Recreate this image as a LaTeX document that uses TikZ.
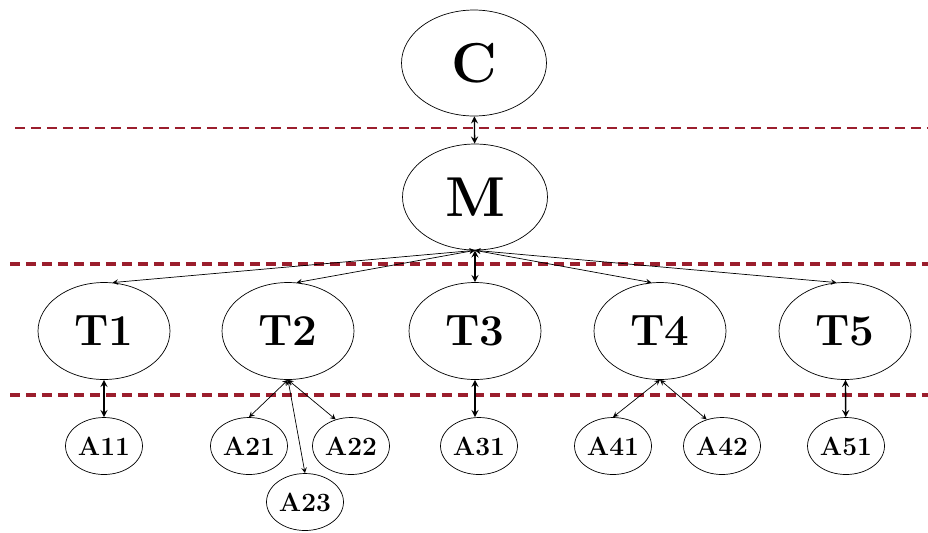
\documentclass[tikz,border=0pt]{standalone}
\usepackage{xcolor}
\usepackage{tikz}
\usetikzlibrary{arrows, positioning, shapes.geometric}

\definecolor{sepred}{RGB}{155,30,45}

\begin{document}
\begin{tikzpicture}[x=0.02cm, y=-0.02cm, >=stealth,
    top/.style={draw, ellipse, inner sep=0pt, minimum width=2.9cm, minimum height=2.12cm,
        font=\fontsize{32}{34}\selectfont\bfseries},
    task/.style={draw, ellipse, inner sep=0pt, minimum width=2.64cm, minimum height=1.94cm,
        font=\fontsize{25}{28}\selectfont\bfseries},
    leaf/.style={draw, ellipse, inner sep=0pt, minimum width=1.54cm, minimum height=1.14cm,
        font=\fontsize{15}{17}\selectfont\bfseries},
    sep/.style={sepred, dash pattern=on 0.2cm off 0.12cm}]
        \useasboundingbox (0,0) rectangle (928,532);

        % Layer separators
        \draw[sep, line width=0.8pt] (15,128) -- (928,128);
        \draw[sep, line width=1.8pt] (10,264) -- (928,264);
        \draw[sep, line width=1.8pt] (10,395) -- (928,395);

        % Coordinator and manager
        \node[top] (C) at (474,63) {C};
        \node[top] (M) at (475,197) {M};

        % Tasks
        \node[task] (T1) at (104,331) {T1};
        \node[task] (T2) at (288,331) {T2};
        \node[task] (T3) at (475,331) {T3};
        \node[task] (T4) at (660,331) {T4};
        \node[task] (T5) at (845,331) {T5};

        % Agents
        \node[leaf] (A11) at (104,446) {A11};
        \node[leaf] (A21) at (249,446) {A21};
        \node[leaf] (A22) at (351,446) {A22};
        \node[leaf] (A23) at (305,502) {A23};
        \node[leaf] (A31) at (479,446) {A31};
        \node[leaf] (A41) at (613,446) {A41};
        \node[leaf] (A42) at (722,446) {A42};
        \node[leaf] (A51) at (846,446) {A51};

        % Relationships
        \draw[<->, thick] (C) -- (M);
        \draw[<->, thick] (M) -- (T3);
        \draw[<->] (M.south) -- (T1.80);
        \draw[<->] (M.south) -- (T2.80);
        \draw[<->] (M.south) -- (T4.100);
        \draw[<->] (M.south) -- (T5.100);
        \draw[<->, thick] (T1) -- (A11);
        \draw[<->] (T2.south) -- (A21.north);
        \draw[<->] (T2.south) -- (A22.120);
        \draw[<->] (T2.south) -- (A23.north);
        \draw[<->, thick] (T3.south) -- (A31.north -| T3.south);
        \draw[<->] (T4.south) -- (A41.north);
        \draw[<->] (T4.south) -- (A42.120);
        \draw[<->, thick] (T5) -- (A51);
    \end{tikzpicture}
\end{document}
